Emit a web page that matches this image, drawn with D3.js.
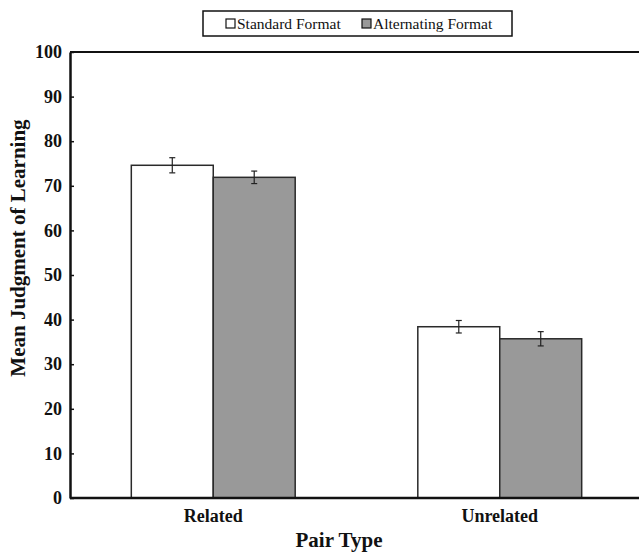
<!DOCTYPE html>
<html>
<head>
<meta charset="utf-8">
<script src="https://cdn.jsdelivr.net/npm/d3@7"></script>
<style>
  body { margin: 0; background: #fff; }
</style>
</head>
<body>
<svg id="chart" width="639" height="553"></svg>
<script>
var categories = ["Related", "Unrelated"];
var seriesNames = ["Standard Format", "Alternating Format"];
var standardMeans = [74.6, 38.4];
var alternatingMeans = [71.9, 35.7];
var standardErr = [1.7, 1.4];
var alternatingErr = [1.4, 1.6];
var yTicks = [0, 10, 20, 30, 40, 50, 60, 70, 80, 90, 100];

var colors = {"Standard Format": "#ffffff", "Alternating Format": "#999999"};
var FONT = "'Liberation Serif', 'Times New Roman', serif";

var margin = {top: 52, left: 70, bottom: 54};
var width = 643, height = 553;
var svg = d3.select("#chart");

var x0 = d3.scaleBand().domain(categories)
    .range([margin.left, width])
    .paddingInner(0.428).paddingOuter(0.214);
var x1 = d3.scaleBand().domain(seriesNames).range([0, x0.bandwidth()]);
var y = d3.scaleLinear().domain([0, 100]).range([height - margin.bottom - 1, margin.top]);

var data = categories.map(function(c, i) {
    return {cat: c, values: [
        {name: seriesNames[0], v: standardMeans[i], e: standardErr[i]},
        {name: seriesNames[1], v: alternatingMeans[i], e: alternatingErr[i]}
    ]};
});

// frame (top line)
svg.append("line")
    .attr("x1", margin.left).attr("x2", width)
    .attr("y1", y(100)).attr("y2", y(100))
    .attr("stroke", "#111").attr("stroke-width", 2);

var groups = svg.selectAll(".cat").data(data).enter().append("g")
    .attr("class", "cat")
    .attr("transform", function(d) { return "translate(" + x0(d.cat) + ",0)"; });

groups.selectAll("rect").data(function(d) { return d.values; }).enter().append("rect")
    .attr("x", function(d) { return x1(d.name); })
    .attr("y", function(d) { return y(d.v); })
    .attr("width", x1.bandwidth())
    .attr("height", function(d) { return y(0) - y(d.v); })
    .attr("fill", function(d) { return colors[d.name]; })
    .attr("stroke", "#2a2a2a").attr("stroke-width", 1.5);

var err = groups.selectAll(".err").data(function(d) { return d.values; }).enter().append("g")
    .attr("class", "err")
    .attr("stroke", "#222").attr("stroke-width", 1.2);
err.append("line")
    .attr("x1", function(d) { return x1(d.name) + x1.bandwidth() / 2; })
    .attr("x2", function(d) { return x1(d.name) + x1.bandwidth() / 2; })
    .attr("y1", function(d) { return y(d.v - d.e); })
    .attr("y2", function(d) { return y(d.v + d.e); });
[-1, 1].forEach(function(s) {
    err.append("line")
        .attr("x1", function(d) { return x1(d.name) + x1.bandwidth() / 2 - 3; })
        .attr("x2", function(d) { return x1(d.name) + x1.bandwidth() / 2 + 3; })
        .attr("y1", function(d) { return y(d.v + s * d.e); })
        .attr("y2", function(d) { return y(d.v + s * d.e); });
});

// y axis
var yAxis = svg.append("g")
    .attr("transform", "translate(" + margin.left + ",0)")
    .call(d3.axisLeft(y).tickValues(yTicks).tickSizeInner(-4).tickSizeOuter(0).tickPadding(8));
yAxis.select(".domain").attr("stroke", "#111").attr("stroke-width", 2.5);
yAxis.selectAll(".tick line").attr("stroke", "#111").attr("stroke-width", 1.5);
yAxis.selectAll(".tick text")
    .style("font-family", FONT)
    .style("font-size", "18px").style("font-weight", "bold").attr("fill", "#111");

// x axis
var xAxis = svg.append("g")
    .attr("transform", "translate(0," + y(0) + ")")
    .call(d3.axisBottom(x0).tickSize(0).tickPadding(11));
xAxis.select(".domain").attr("stroke", "#111").attr("stroke-width", 2.5)
    .attr("d", "M" + margin.left + ",0H" + width);
xAxis.selectAll(".tick text")
    .style("font-family", FONT)
    .style("font-size", "18px").style("font-weight", "bold").attr("fill", "#111");

// axis titles
svg.append("text")
    .attr("transform", "translate(25,248) rotate(-90)")
    .attr("text-anchor", "middle")
    .style("font-family", FONT)
    .style("font-size", "21px").style("font-weight", "bold").attr("fill", "#111")
    .text("Mean Judgment of Learning");
svg.append("text")
    .attr("x", 339).attr("y", 547)
    .attr("text-anchor", "middle")
    .style("font-family", FONT)
    .style("font-size", "21px").style("font-weight", "bold").attr("fill", "#111")
    .text("Pair Type");

// legend
var legend = svg.append("g");
legend.append("rect")
    .attr("x", 203).attr("y", 11).attr("width", 309).attr("height", 25)
    .attr("fill", "#fff").attr("stroke", "#111").attr("stroke-width", 1.5);
var legendX = [226, 362];
seriesNames.forEach(function(name, i) {
    legend.append("rect")
        .attr("x", legendX[i]).attr("y", 19).attr("width", 9).attr("height", 9)
        .attr("fill", colors[name]).attr("stroke", "#111").attr("stroke-width", 1.2);
    legend.append("text")
        .attr("x", legendX[i] + 11).attr("y", 28.5)
        .style("font-family", FONT)
        .style("font-size", "15.5px").attr("fill", "#111")
        .text(name);
});
</script>
</body>
</html>
